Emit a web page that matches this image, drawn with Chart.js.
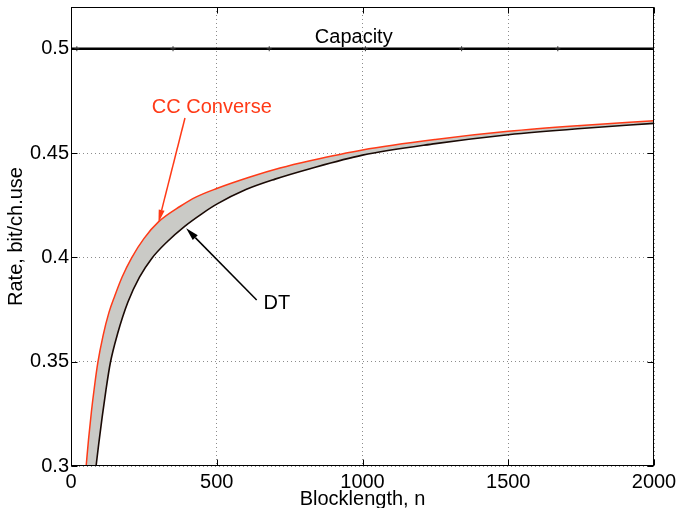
<!DOCTYPE html>
<html>
<head>
<meta charset="utf-8">
<script src="https://cdn.jsdelivr.net/npm/chart.js@4.4.0/dist/chart.umd.min.js"></script>
<style>
    html, body { margin: 0; padding: 0; background: #fff; }
</style>
</head>
<body>
<canvas id="rateChart" width="679" height="508"></canvas>
<script>
// blocklength n and rate values
var ccN    = [52, 60, 70, 80, 92, 110, 130, 150, 175, 208, 250, 300, 375, 430, 500, 614, 717, 820, 1000, 1250, 1500, 1750, 2000];
var ccRate = [0.300, 0.3125, 0.326, 0.3375, 0.3495, 0.3625, 0.3735, 0.3815, 0.3905, 0.3998, 0.409, 0.417, 0.4245, 0.429, 0.433, 0.4385, 0.4428, 0.4463, 0.4515, 0.4565, 0.4604, 0.4632, 0.4655];

// first two DT points lie below the visible range (estimated)
var dtN    = [50, 68, 86, 95, 107, 120, 135, 160, 195, 235, 277, 330, 391, 450, 500, 600, 700, 820, 1000, 1250, 1500, 1750, 2000];
var dtRate = [0.244, 0.277, 0.300, 0.3105, 0.3235, 0.3365, 0.3495, 0.3635, 0.3785, 0.3905, 0.3995, 0.4075, 0.415, 0.421, 0.4255, 0.4325, 0.4375, 0.4425, 0.449, 0.4545, 0.4588, 0.4618, 0.4642];

var capN    = [0, 20, 350, 680, 1010, 1340, 1670, 2000];
var capRate = 0.5;

var xTicks = [0, 500, 1000, 1500, 2000];
var xTickLabels = ['0', '500', '1000', '1500', '2000'];
var yTicks = [0.3, 0.35, 0.4, 0.45, 0.5];
var yTickLabels = ['0.3', '0.35', '0.4', '0.45', '0.5'];

var redColor = '#ff3a17';
var fontFamily = '"Liberation Sans", Arial, sans-serif';

function toPoints(xs, ys) {
    return xs.map(function(x, i) {
        return { x: x, y: Array.isArray(ys) ? ys[i] : ys };
    });
}

function drawArrow(ctx, x1, y1, x2, y2, color, headLen, headW) {
    var ang = Math.atan2(y2 - y1, x2 - x1);
    var bx = x2 - headLen * Math.cos(ang);
    var by = y2 - headLen * Math.sin(ang);
    ctx.strokeStyle = color;
    ctx.fillStyle = color;
    ctx.lineWidth = 1.5;
    ctx.beginPath();
    ctx.moveTo(x1, y1);
    ctx.lineTo(bx, by);
    ctx.stroke();
    ctx.beginPath();
    ctx.moveTo(x2, y2);
    ctx.lineTo(bx + headW / 2 * Math.sin(ang), by - headW / 2 * Math.cos(ang));
    ctx.lineTo(bx - headW / 2 * Math.sin(ang), by + headW / 2 * Math.cos(ang));
    ctx.closePath();
    ctx.fill();
}

// frame, inward ticks, labels and arrows
var matlabFrame = {
    id: 'matlabFrame',
    afterDraw: function(chart) {
        var ctx = chart.ctx;
        var ca = chart.chartArea;
        var xs = chart.scales.x;
        var ys = chart.scales.y;
        var L = Math.round(ca.left) + 0.5, R = Math.round(ca.right) - 0.5;
        var T = Math.round(ca.top) + 0.5, B = Math.round(ca.bottom) - 0.5;

        ctx.save();
        ctx.strokeStyle = '#000';
        ctx.lineWidth = 1;
        ctx.strokeRect(L, T, R - L, B - T);

        ctx.beginPath();
        xTicks.forEach(function(v) {
            var px = Math.round(xs.getPixelForValue(v)) + 0.5;
            ctx.moveTo(px, B); ctx.lineTo(px, B - 6);
            ctx.moveTo(px, T); ctx.lineTo(px, T + 6);
        });
        yTicks.forEach(function(v) {
            var py = Math.round(ys.getPixelForValue(v)) + 0.5;
            ctx.moveTo(L, py); ctx.lineTo(L + 6, py);
            ctx.moveTo(R, py); ctx.lineTo(R - 6, py);
        });
        ctx.stroke();

        ctx.font = '20px ' + fontFamily;
        ctx.textAlign = 'center';
        ctx.textBaseline = 'middle';

        ctx.fillStyle = '#000';
        ctx.fillText('Capacity', xs.getPixelForValue(970), ys.getPixelForValue(0.5052));

        ctx.fillStyle = redColor;
        ctx.fillText('CC Converse', xs.getPixelForValue(483), ys.getPixelForValue(0.4719));

        ctx.fillStyle = '#000';
        ctx.fillText('DT', xs.getPixelForValue(706), ys.getPixelForValue(0.3781));

        drawArrow(ctx, xs.getPixelForValue(391), ys.getPixelForValue(0.4668),
                  xs.getPixelForValue(300), ys.getPixelForValue(0.4166), redColor, 13, 6);
        drawArrow(ctx, xs.getPixelForValue(637), ys.getPixelForValue(0.3796),
                  xs.getPixelForValue(395), ys.getPixelForValue(0.4139), '#000', 13, 7);

        // axis titles
        ctx.fillStyle = '#000';
        ctx.textBaseline = 'alphabetic';
        ctx.fillText('Blocklength, n', (ca.left + ca.right) / 2, 505);
        ctx.save();
        ctx.translate(22, (ca.top + ca.bottom) / 2);
        ctx.rotate(-Math.PI / 2);
        ctx.fillText('Rate, bit/ch.use', 0, 0);
        ctx.restore();

        ctx.restore();
    }
};

var ctx = document.getElementById('rateChart');

var rateChart = new Chart(ctx, {
    type: 'scatter',
    data: {
        datasets: [{
            label: 'Capacity',
            data: toPoints(capN, capRate),
            showLine: true,
            borderColor: '#000',
            borderWidth: 2.5,
            pointStyle: 'cross',
            pointRadius: capN.map(function(n, i) { return i === 0 ? 0 : 2.5; }),
            pointBorderColor: '#333',
            pointBorderWidth: 1,
            fill: false
        }, {
            label: 'CC Converse',
            data: toPoints(ccN, ccRate),
            showLine: true,
            borderColor: redColor,
            borderWidth: 1.5,
            pointRadius: 0,
            cubicInterpolationMode: 'monotone',
            backgroundColor: '#cacac6',
            fill: '+1'
        }, {
            label: 'DT',
            data: toPoints(dtN, dtRate),
            showLine: true,
            borderColor: '#1a0a05',
            borderWidth: 1.6,
            pointRadius: 0,
            cubicInterpolationMode: 'monotone',
            fill: false
        }]
    },
    options: {
        responsive: false,
        animation: false,
        layout: {
            padding: { left: 0, right: 25, top: 7, bottom: 0 }
        },
        plugins: {
            legend: { display: false },
            tooltip: { enabled: false },
            filler: { drawTime: 'beforeDatasetsDraw' }
        },
        scales: {
            x: {
                type: 'linear',
                min: 0,
                max: 2000,
                afterBuildTicks: function(scale) {
                    scale.ticks = xTicks.map(function(v) { return { value: v }; });
                },
                afterFit: function(scale) {
                    scale.height = 42;
                    scale.paddingLeft = 0;
                    scale.paddingRight = 0;
                },
                grid: { color: '#8c8c8c', lineWidth: 1, drawTicks: false },
                border: { display: false, dash: [1, 3] },
                ticks: {
                    color: '#000',
                    padding: 4,
                    maxRotation: 0,
                    font: { family: fontFamily, size: 20 },
                    callback: function(value) {
                        var i = xTicks.indexOf(value);
                        return i >= 0 ? xTickLabels[i] : '';
                    }
                }
            },
            y: {
                type: 'linear',
                min: 0.3,
                max: 0.52,
                afterBuildTicks: function(scale) {
                    scale.ticks = yTicks.map(function(v) { return { value: v }; });
                },
                afterFit: function(scale) {
                    scale.width = 71;
                    scale.paddingTop = 0;
                    scale.paddingBottom = 0;
                },
                grid: { color: '#8c8c8c', lineWidth: 1, drawTicks: false },
                border: { display: false, dash: [1, 3] },
                ticks: {
                    color: '#000',
                    padding: 2,
                    font: { family: fontFamily, size: 20 },
                    callback: function(value) {
                        var i = yTicks.indexOf(value);
                        return i >= 0 ? yTickLabels[i] : '';
                    }
                }
            }
        }
    },
    plugins: [matlabFrame]
});
</script>
</body>
</html>
